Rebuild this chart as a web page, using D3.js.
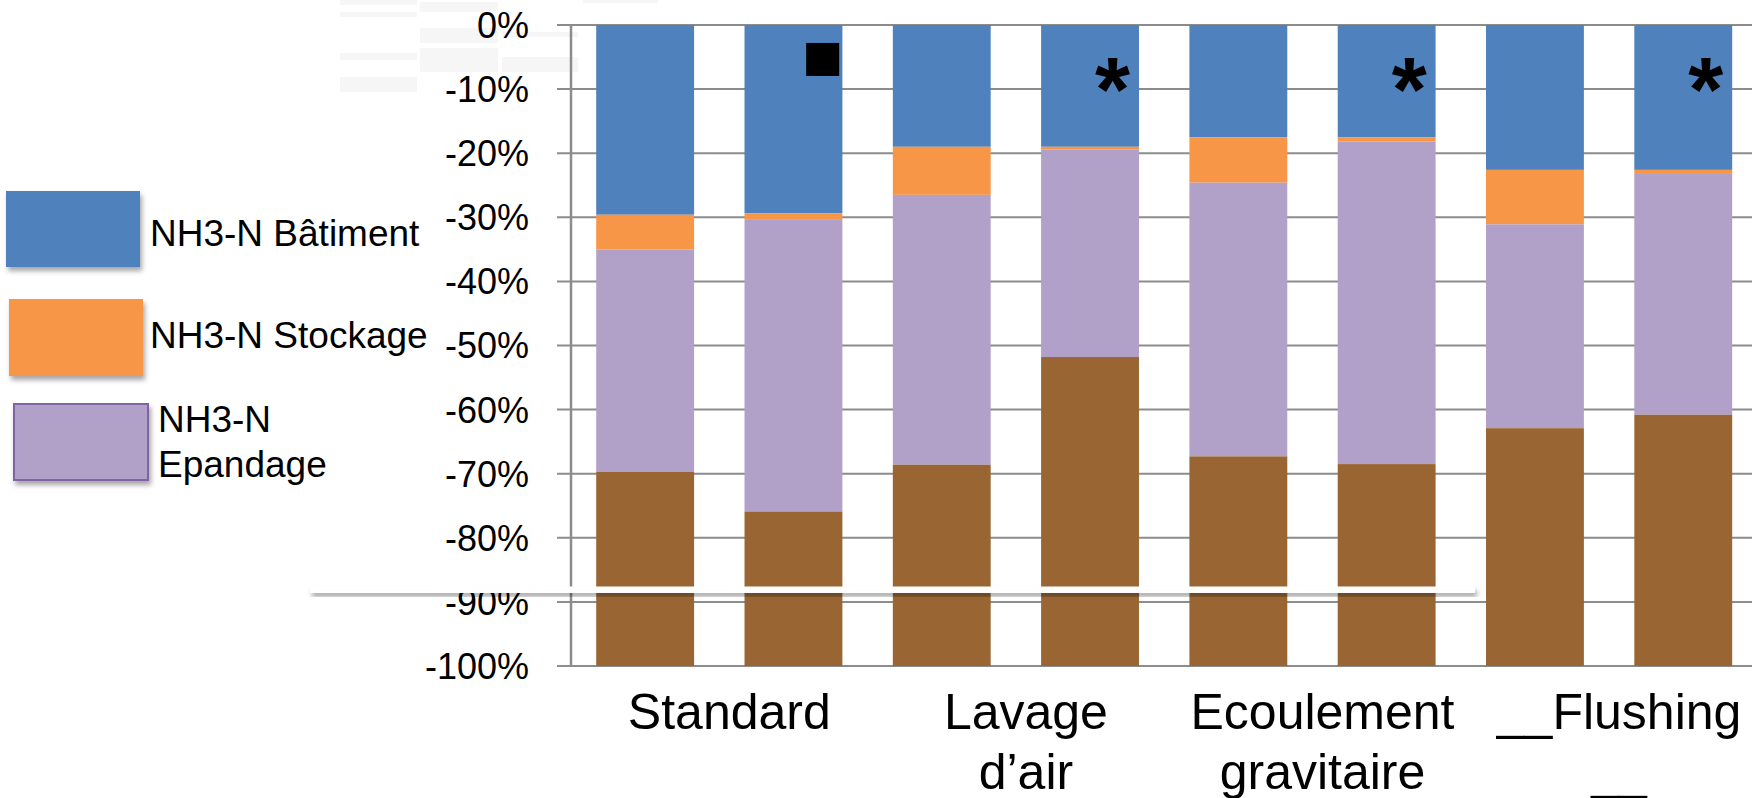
<!DOCTYPE html>
<html lang="fr">
<head>
<meta charset="UTF-8">
<title>NH3-N</title>
<script src="https://d3js.org/d3.v7.min.js"></script>
<style>
  body { margin: 0; background: #fff; }
  svg { display: block; font-family: "Liberation Sans", Arial, sans-serif; }
  .grid line { stroke: #8c8c8c; stroke-width: 2px; }
  .tick-label { font-size: 36px; fill: #000; }
  .cat-label { font-size: 50px; fill: #000; }
  .legend-text { font-size: 37px; fill: #000; }
</style>
</head>
<body>
<svg width="1752" height="798"></svg>
<script>
// bars (two per treatment) and group labels
const bars = ["std1", "std2", "lav1", "lav2", "eco1", "eco2", "flu1", "flu2"];
const groupLabels = [["Standard"], ["Lavage", "d\u2019air"], ["Ecoulement", "gravitaire"], ["__Flushing", "__"]];

// shares in %, negative = losses
const batiment = [-29.6, -29.4, -19.0, -19.0, -17.5, -17.5, -22.6, -22.6];
const stockage = [-5.4, -1.0, -7.5, -0.4, -7.1, -0.7, -8.5, -0.5];
const epandage = [-34.7, -45.5, -42.1, -32.4, -42.7, -50.3, -31.8, -37.7];
const autres   = [-30.3, -24.1, -31.4, -48.2, -32.7, -31.5, -37.1, -39.2];

const seriesNames = ["NH3-N B\u00e2timent", "NH3-N Stockage", "NH3-N Epandage", "Autres"];
const colors = ["#4f81bd", "#f79646", "#b1a0c7", "#996633"];
const yTicks = [0, -10, -20, -30, -40, -50, -60, -70, -80, -90, -100];
const markers = ["", "square", "", "star", "", "star", "", "star"];

const svg = d3.select("svg");

const defs = svg.append("defs");
defs.append("filter").attr("id", "shadow")
    .attr("x", "-10%").attr("y", "-30%").attr("width", "130%").attr("height", "180%")
  .append("feDropShadow")
    .attr("dx", 2).attr("dy", 4).attr("stdDeviation", 2.5)
    .attr("flood-color", "#000").attr("flood-opacity", 0.35);

// faint remnants in the top-left corner of the slide
const ghost = svg.append("g").attr("fill", "#f6f6f6");
[[340, 0, 77, 5], [340, 12, 77, 5], [340, 53, 77, 7], [340, 77, 77, 15],
 [420, 2, 78, 10], [420, 28, 78, 15], [420, 48, 78, 24],
 [502, 32, 76, 5], [502, 57, 76, 15], [583, 0, 75, 3]].forEach(r => {
  ghost.append("rect").attr("x", r[0]).attr("y", r[1]).attr("width", r[2]).attr("height", r[3]);
});

const x = d3.scaleBand()
    .domain(bars)
    .range([571, 571 + 8 * 148.3])
    .paddingInner(0.34)
    .paddingOuter(0.17);

const y = d3.scaleLinear()
    .domain([-100, 0])
    .range([666, 25]);

// gridlines + ticks
const grid = svg.append("g").attr("class", "grid");
grid.selectAll("line")
    .data(yTicks)
    .enter().append("line")
    .attr("x1", 557)
    .attr("x2", 1760)
    .attr("y1", d => y(d))
    .attr("y2", d => y(d));

svg.append("line")
    .attr("x1", 571).attr("x2", 571)
    .attr("y1", y(0)).attr("y2", y(-100))
    .attr("stroke", "#8c8c8c").attr("stroke-width", 2.5);

svg.append("g").selectAll("text")
    .data(yTicks)
    .enter().append("text")
    .attr("class", "tick-label")
    .attr("x", 529)
    .attr("y", d => y(d))
    .attr("dy", "0.36em")
    .attr("text-anchor", "end")
    .text(d => d + "%");

// stacked bars
const rows = bars.map((b, i) => ({
  bar: b, s0: batiment[i], s1: stockage[i], s2: epandage[i], s3: autres[i]
}));
const stacked = d3.stack()
    .keys(["s0", "s1", "s2", "s3"])
    .offset(d3.stackOffsetDiverging)(rows);

svg.append("g").selectAll("g")
    .data(stacked)
    .enter().append("g")
    .attr("fill", (d, i) => colors[i])
    .selectAll("rect")
    .data(d => d)
    .enter().append("rect")
    .attr("x", d => x(d.data.bar))
    .attr("width", x.bandwidth())
    .attr("y", d => y(Math.max(d[0], d[1])))
    .attr("height", d => Math.abs(y(d[1]) - y(d[0])));

// significance markers
const mk = svg.append("g");
bars.forEach((b, i) => {
  if (markers[i] === "square") {
    mk.append("rect")
      .attr("x", x(b) + x.bandwidth() * 0.63)
      .attr("y", y(-2.8))
      .attr("width", 33).attr("height", 33)
      .attr("fill", "#000");
  } else if (markers[i] === "star") {
    mk.append("text")
      .attr("x", x(b) + x.bandwidth() * 0.73)
      .attr("y", y(-15))
      .attr("text-anchor", "middle")
      .attr("font-size", 90)
      .attr("font-weight", "bold")
      .text("*");
  }
});

// group labels under each pair
const labels = svg.append("g");
groupLabels.forEach((lines, g) => {
  const cx = (x(bars[g * 2]) + x(bars[g * 2 + 1]) + x.bandwidth()) / 2 + 10;
  lines.forEach((t, k) => {
    labels.append("text")
      .attr("class", "cat-label")
      .attr("x", cx)
      .attr("y", 729 + k * 60)
      .attr("text-anchor", "middle")
      .text(t);
  });
});

// white strip pasted over the slide
svg.append("rect")
    .attr("x", 310).attr("y", 586.5)
    .attr("width", 1165).attr("height", 6.5)
    .attr("fill", "#fff")
    .attr("filter", "url(#shadow)");

// legend (first three series only)
const legendBoxes = [
  { x: 6, y: 191, w: 134, h: 76 },
  { x: 9, y: 299, w: 134, h: 77 },
  { x: 14, y: 404, w: 134, h: 76 }
];
const legendText = [
  { x: 150, y: [246], lines: [seriesNames[0]] },
  { x: 150, y: [348], lines: [seriesNames[1]] },
  { x: 158, y: [432, 477], lines: ["NH3-N", "Epandage"] }
];
const legend = svg.append("g");
legendBoxes.forEach((b, i) => {
  legend.append("rect")
    .attr("x", b.x).attr("y", b.y)
    .attr("width", b.w).attr("height", b.h)
    .attr("fill", colors[i])
    .attr("stroke", i === 2 ? "#8064a2" : "none")
    .attr("stroke-width", 2)
    .attr("filter", "url(#shadow)");
  legendText[i].lines.forEach((t, k) => {
    legend.append("text")
      .attr("class", "legend-text")
      .attr("x", legendText[i].x)
      .attr("y", legendText[i].y[k])
      .text(t);
  });
});
</script>
</body>
</html>
